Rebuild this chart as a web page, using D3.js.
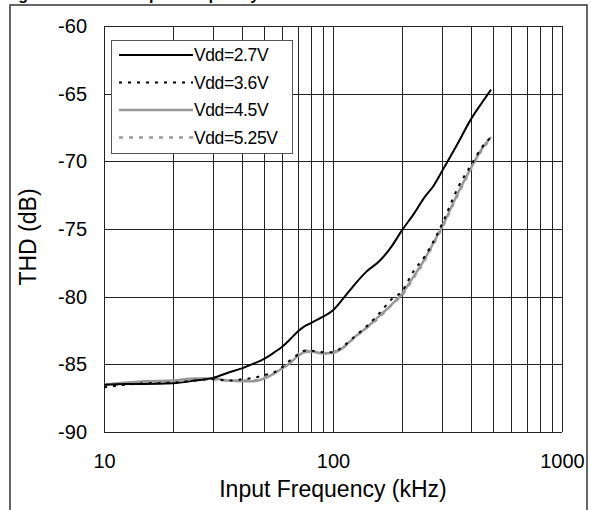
<!DOCTYPE html>
<html><head><meta charset="utf-8">
<script src="https://d3js.org/d3.v7.min.js"></script>
<style>body{margin:0;background:#fff}svg{display:block}text{font-family:Arial,"Liberation Sans",sans-serif;fill:#000}</style>
</head><body><svg id="c" width="591" height="510"></svg>
<script>
const freqs = [10,12.5,15,20,25,30,35,40,45,50,55,60,65,70,75,80,90,100,110,125,140,160,180,200,225,250,275,300,350,400,450,490];
const vdd27 = [-86.5,-86.45,-86.45,-86.4,-86.2,-86.0,-85.6,-85.3,-84.95,-84.6,-84.15,-83.7,-83.15,-82.6,-82.2,-81.95,-81.5,-81.0,-80.2,-79.05,-78.15,-77.35,-76.3,-75.1,-73.9,-72.7,-71.8,-70.7,-68.7,-66.9,-65.6,-64.7];
const vdd36 = [-86.7,-86.5,-86.4,-86.35,-86.2,-86.1,-86.2,-86.1,-86.0,-85.8,-85.6,-85.2,-84.7,-84.3,-84.0,-84.0,-84.1,-84.1,-83.7,-82.9,-82.2,-81.2,-80.2,-79.6,-78.1,-77.1,-75.9,-74.6,-72.0,-70.3,-68.9,-68.2];
const vdd45 = [-86.5,-86.35,-86.25,-86.2,-86.05,-86.05,-86.2,-86.25,-86.25,-86.05,-85.7,-85.3,-84.9,-84.4,-84.1,-84.05,-84.2,-84.15,-83.8,-82.95,-82.3,-81.4,-80.6,-79.8,-78.5,-77.3,-76.0,-74.8,-72.4,-70.5,-69.0,-68.2];
const vdd525 = [-86.55,-86.45,-86.4,-86.3,-86.15,-86.1,-86.2,-86.2,-86.2,-86.0,-85.7,-85.3,-84.8,-84.3,-84.0,-84.0,-84.2,-84.1,-83.8,-83.0,-82.3,-81.5,-80.6,-79.9,-78.6,-77.4,-76.1,-74.9,-72.5,-70.6,-69.1,-68.3];
const seriesNames = ["Vdd=2.7V","Vdd=3.6V","Vdd=4.5V","Vdd=5.25V"];
const xTicks = [10,100,1000];
const xGrid = [10,20,30,40,50,60,70,80,90,100,200,300,400,500,600,700,800,900,1000];
const yTicks = [-60,-65,-70,-75,-80,-85,-90];
const titleText = "Figure 9. THD vs Input Frequency";

const styles = [
  {color:"#000", width:2, dash:null},
  {color:"#000", width:2, dash:"3,6"},
  {color:"#999", width:2.5, dash:null},
  {color:"#999", width:2.5, dash:"4,6"}
];
const allSeries = [vdd27,vdd36,vdd45,vdd525];

const svg = d3.select("#c");
const L=104, R=562, T=26, B=432;
const x = d3.scaleLog().domain([10,1000]).range([L,R]);
const y = d3.scaleLinear().domain([-90,-60]).range([B,T]);

// outer border
svg.append("rect").attr("x",10).attr("y",5).attr("width",577).attr("height",520)
  .attr("fill","none").attr("stroke","#333").attr("stroke-width",1.5);
// title (cut off at the top edge, as in the reference)
svg.append("text").attr("x",4).attr("y",0).attr("font-size",16).attr("font-weight","bold").text(titleText);

// grid
const g = svg.append("g");
g.selectAll("line.v").data(xGrid).enter().append("line")
  .attr("x1",d=>Math.round(x(d))+0.5).attr("x2",d=>Math.round(x(d))+0.5)
  .attr("y1",T).attr("y2",B).attr("stroke","#222").attr("stroke-width",1);
g.selectAll("line.h").data(yTicks).enter().append("line")
  .attr("y1",d=>Math.round(y(d))+0.5).attr("y2",d=>Math.round(y(d))+0.5)
  .attr("x1",L).attr("x2",R).attr("stroke","#222").attr("stroke-width",1);

// axes labels via d3 axes
const yAxis = svg.append("g").attr("transform",`translate(${L},0)`)
  .call(d3.axisLeft(y).tickValues(yTicks).tickSize(0).tickPadding(17).tickFormat(d=>String(d)));
yAxis.select(".domain").remove();
yAxis.selectAll("text").attr("font-size",20).attr("font-family",'Arial,"Liberation Sans",sans-serif');
const xAxis = svg.append("g").attr("transform",`translate(0,${B})`)
  .call(d3.axisBottom(x).tickValues(xTicks).tickSize(0).tickPadding(22).tickFormat(d=>String(d)));
xAxis.select(".domain").remove();
xAxis.selectAll("text").attr("font-size",20).attr("font-family",'Arial,"Liberation Sans",sans-serif');

svg.append("text").attr("x",333).attr("y",497).attr("text-anchor","middle").attr("font-size",23).text("Input Frequency (kHz)");
svg.append("text").attr("transform","translate(36,237) rotate(-90)").attr("text-anchor","middle").attr("font-size",23).text("THD (dB)");

// lines
const line = d3.line().x(d=>x(d[0])).y(d=>y(d[1])).curve(d3.curveMonotoneX);
const order = [3,2,1,0];
order.forEach(i=>{
  const s = styles[i];
  svg.append("path").datum(freqs.map((f,k)=>[f,allSeries[i][k]]))
    .attr("d",line).attr("fill","none").attr("stroke",s.color).attr("stroke-width",s.width)
    .attr("stroke-dasharray",s.dash);
});

// legend
const lg = svg.append("g");
lg.append("rect").attr("x",111.5).attr("y",40.5).attr("width",181).attr("height",113)
  .attr("fill","#fff").attr("stroke","#555").attr("stroke-width",1);
seriesNames.forEach((n,i)=>{
  const yy = 55 + i*27.5;
  const s = styles[i];
  lg.append("line").attr("x1",119).attr("x2",193).attr("y1",yy).attr("y2",yy)
    .attr("stroke",s.color).attr("stroke-width",s.width).attr("stroke-dasharray",s.dash);
  lg.append("text").attr("x",194).attr("y",yy+6).attr("font-size",17.5).attr("letter-spacing",-0.4).text(n);
});
</script></body></html>
